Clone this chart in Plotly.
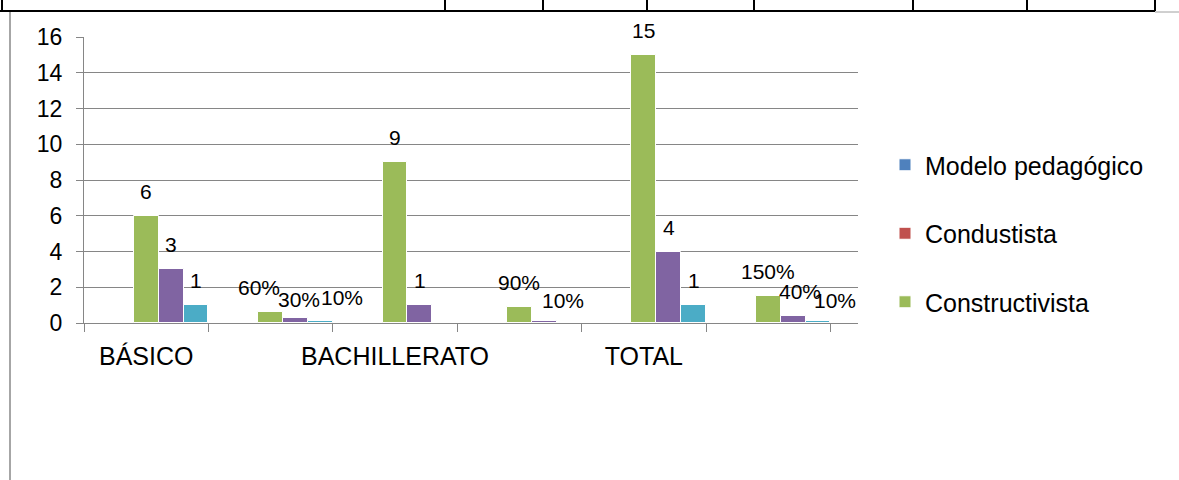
import plotly.graph_objects as go

# data
categories = ["BÁSICO", "BÁSICO %", "BACHILLERATO", "BACHILLERATO %", "TOTAL", "TOTAL %"]
tick_labels = ["BÁSICO", "", "BACHILLERATO", "", "TOTAL", ""]
modelo = [0, 0, 0, 0, 0, 0]
condustista = [0, 0, 0, 0, 0, 0]
constructivista = [6, 0.6, 9, 0.9, 15, 1.5]
serie4 = [3, 0.3, 1, 0.1, 4, 0.4]
serie5 = [1, 0.1, 0, 0, 1, 0.1]
is_percent = [False, True, False, True, False, True]

series = [
    ("Modelo pedagógico", modelo, "#4F81BD", True),
    ("Condustista", condustista, "#C0504D", True),
    ("Constructivista", constructivista, "#9BBB59", True),
    ("Serie 4", serie4, "#8064A2", False),
    ("Serie 5", serie5, "#4BACC6", False),
]

W, H = 1179, 480
L, R, T, B = 84, 321, 37, 157
PW, PH = W - L - R, H - T - B


def xp(px):
    return (px - L) / PW


def yp(py):
    return (H - B - py) / PH


fig = go.Figure()

for i, (name, vals, color, legend) in enumerate(series):
    fig.add_trace(go.Bar(
        x=categories, y=vals, name=name,
        marker=dict(color=color, line=dict(color="white", width=1)),
        showlegend=legend, legendgroup=name,
    ))

# data labels (Excel style, some nudged by hand in the original)
nudge = {(1, 2): (-12, 0), (1, 3): (4, -6), (1, 4): (22, -1),
         (3, 3): (19, -4), (5, 3): (7, 0), (5, 4): (17, -4)}
annotations = []
n = len(series)
for k, (name, vals, color, legend) in enumerate(series):
    for i, v in enumerate(vals):
        if v == 0:
            continue
        txt = f"{round(v * 100)}%" if is_percent[i] else f"{v:g}"
        dx, dy = nudge.get((i, k), (0, 0))
        annotations.append(dict(
            x=i + (k - (n - 1) / 2) / n, y=v, xref="x", yref="y",
            text=txt, showarrow=False, yanchor="bottom",
            yshift=11 + dy, xshift=dx,
            font=dict(size=21, color="black"),
        ))

# table borders around the chart
shapes = []
line_black = dict(color="black", width=2)
shapes.append(dict(type="line", xref="paper", yref="paper",
                   x0=xp(0), x1=xp(1155), y0=yp(11), y1=yp(11), line=line_black))
shapes.append(dict(type="line", xref="paper", yref="paper",
                   x0=xp(1155), x1=xp(1179), y0=yp(12), y1=yp(12),
                   line=dict(color="#a0a0a0", width=1)))
for vx in [2, 445, 543, 647, 754, 913, 1027, 1155]:
    shapes.append(dict(type="line", xref="paper", yref="paper",
                       x0=xp(vx), x1=xp(vx), y0=yp(0), y1=yp(11), line=line_black))
shapes.append(dict(type="line", xref="paper", yref="paper",
                   x0=xp(10), x1=xp(10), y0=yp(12), y1=yp(480),
                   line=dict(color="#a6a6a6", width=2)))

fig.update_layout(
    width=W, height=H,
    margin=dict(l=L, r=R, t=T, b=B, autoexpand=False),
    paper_bgcolor="white", plot_bgcolor="white",
    barmode="group", bargap=0, bargroupgap=0,
    font=dict(family="Liberation Sans, Arial, sans-serif", color="black"),
    showlegend=True,
    legend=dict(x=xp(885), y=yp(142), xanchor="left", yanchor="top",
                font=dict(size=25), tracegroupgap=33,
                bgcolor="rgba(0,0,0,0)"),
    annotations=annotations,
    shapes=shapes,
)

fig.update_xaxes(
    type="category", tickvals=categories, ticktext=tick_labels,
    tickson="boundaries", ticks="outside", ticklen=8, tickcolor="#868686",
    showline=True, linecolor="#868686", linewidth=1, tickangle=0,
    showgrid=False, tickfont=dict(size=25), ticklabelstandoff=11,
    automargin=False,
)
fig.update_yaxes(
    range=[0, 16], dtick=2, ticks="outside", ticklen=7, tickcolor="#868686",
    showline=True, linecolor="#868686", linewidth=1,
    showgrid=True, gridcolor="#868686", gridwidth=1, zeroline=False,
    tickfont=dict(size=23), ticklabelstandoff=9, automargin=False,
)

# drop the browser's default body margin so the figure sits at the page corner
fig.write_html("out.html", config={"displayModeBar": False},
               post_script="document.body.style.margin='0';")
